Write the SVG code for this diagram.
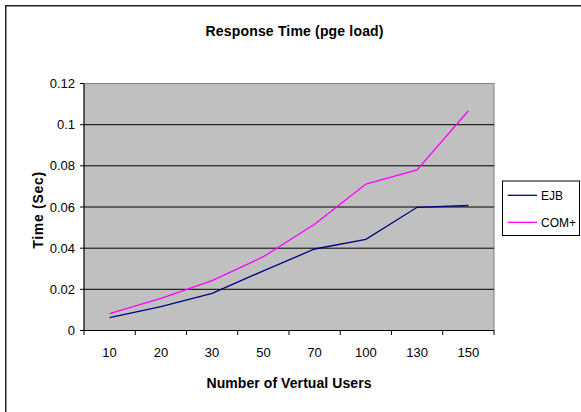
<svg xmlns="http://www.w3.org/2000/svg" width="581" height="412" viewBox="0 0 581 412">
<style>
text{font-family:"Liberation Sans",Arial,sans-serif;fill:#000}
.t{font-size:14px;font-weight:bold}
.l{font-size:13px}
.ya{text-anchor:end}
.xa{text-anchor:middle}
.grid{stroke:#000;stroke-width:1}
.tick{stroke:#000;stroke-width:1}
</style>
<rect x="0" y="0" width="581" height="412" fill="#fff"/>
<rect x="5.75" y="5.75" width="620" height="520" fill="#fff" stroke="#222" stroke-width="1.5"/>
<text class="t" x="294.5" y="35.5" text-anchor="middle" textLength="178" lengthAdjust="spacing">Response Time (pge load)</text>
<g id="plot">
<rect x="84" y="83.5" width="410" height="247" fill="#C0C0C0" stroke="#808080" stroke-width="1"/>
<g class="grid">
<line x1="84" y1="124.7" x2="494" y2="124.7"/>
<line x1="84" y1="165.8" x2="494" y2="165.8"/>
<line x1="84" y1="207" x2="494" y2="207"/>
<line x1="84" y1="248.2" x2="494" y2="248.2"/>
<line x1="84" y1="289.3" x2="494" y2="289.3"/>
</g>
<g class="tick">
<line x1="84" y1="83.5" x2="84" y2="330.5"/>
<line x1="84" y1="330.5" x2="494" y2="330.5"/>
<line x1="80" y1="83.5" x2="84" y2="83.5"/>
<line x1="80" y1="124.7" x2="84" y2="124.7"/>
<line x1="80" y1="165.8" x2="84" y2="165.8"/>
<line x1="80" y1="207" x2="84" y2="207"/>
<line x1="80" y1="248.2" x2="84" y2="248.2"/>
<line x1="80" y1="289.3" x2="84" y2="289.3"/>
<line x1="80" y1="330.5" x2="84" y2="330.5"/>
<line x1="84" y1="330.5" x2="84" y2="335"/>
<line x1="135.25" y1="330.5" x2="135.25" y2="335"/>
<line x1="186.5" y1="330.5" x2="186.5" y2="335"/>
<line x1="237.75" y1="330.5" x2="237.75" y2="335"/>
<line x1="289" y1="330.5" x2="289" y2="335"/>
<line x1="340.25" y1="330.5" x2="340.25" y2="335"/>
<line x1="391.5" y1="330.5" x2="391.5" y2="335"/>
<line x1="442.75" y1="330.5" x2="442.75" y2="335"/>
<line x1="494" y1="330.5" x2="494" y2="335"/>
</g>
</g>
<g id="y-labels" class="l">
<text class="ya" x="75" y="88">0.12</text>
<text class="ya" x="75" y="129.2">0.1</text>
<text class="ya" x="75" y="170.3">0.08</text>
<text class="ya" x="75" y="211.5">0.06</text>
<text class="ya" x="75" y="252.7">0.04</text>
<text class="ya" x="75" y="293.8">0.02</text>
<text class="ya" x="75" y="335">0</text>
</g>
<g id="x-labels" class="l">
<text class="xa" x="109.6" y="357.3">10</text>
<text class="xa" x="160.9" y="357.3">20</text>
<text class="xa" x="212.1" y="357.3">30</text>
<text class="xa" x="263.4" y="357.3">50</text>
<text class="xa" x="314.6" y="357.3">70</text>
<text class="xa" x="365.9" y="357.3">100</text>
<text class="xa" x="417.1" y="357.3">130</text>
<text class="xa" x="468.4" y="357.3">150</text>
</g>
<text class="t" x="289" y="387.5" text-anchor="middle" textLength="165" lengthAdjust="spacing">Number of Vertual Users</text>
<text class="t" transform="translate(42.5,210.3) rotate(-90)" x="0" y="0" text-anchor="middle" textLength="77" lengthAdjust="spacing">Time (Sec)</text>
<g id="series">
<polyline id="ejb" fill="none" stroke="#000080" stroke-width="1.3" points="109.6,317.7 160.9,306.7 212.1,293.3 263.4,270.8 314.6,249 365.9,239.3 417.1,207.3 468.4,205.5"/>
<polyline id="com" fill="none" stroke="#FF00FF" stroke-width="1.3" points="109.6,313.7 160.9,298.3 212.1,280.7 263.4,256.7 314.6,224.3 365.9,184 417.1,170 468.4,110.7"/>
</g>
<g id="legend">
<rect x="502.5" y="181" width="77" height="54.5" fill="#fff" stroke="#000" stroke-width="1"/>
<line x1="507.7" y1="195.3" x2="537" y2="195.3" stroke="#000080" stroke-width="1.3"/>
<line x1="507.7" y1="222.3" x2="537" y2="222.3" stroke="#FF00FF" stroke-width="1.3"/>
<text class="l" x="541" y="199.5" textLength="22" lengthAdjust="spacingAndGlyphs">EJB</text>
<text class="l" x="541" y="226.8" textLength="35" lengthAdjust="spacingAndGlyphs">COM+</text>
</g>
</svg>
